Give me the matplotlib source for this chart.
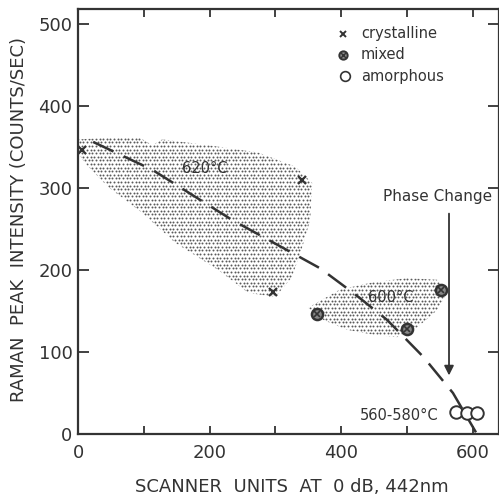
import numpy as np
import matplotlib
matplotlib.use("Agg")
import matplotlib.pyplot as plt

## data
cryst_x = [6, 341, 297]
cryst_y = [346, 310, 173]
mixed_x = [363, 500, 552]
mixed_y = [146, 128, 176]
amorph_x = [575, 592, 607]
amorph_y = [27, 25, 25]

## dashed trend curve
trend_x = [23, 113, 234, 300, 368, 420, 470, 525, 570, 605]
trend_y = [356, 322, 261, 232, 202, 171, 139, 94, 50, 2]

## outlines of the shaded regions
r620_x = [0, 61, 94, 113, 128, 198, 274, 330, 356, 353, 341, 325, 300, 259, 213, 148, 97, 46, 11, 0]
r620_y = [359, 362, 361, 352, 359, 352, 343, 326, 306, 261, 228, 191, 167, 172, 200, 233, 270, 301, 330, 343]
r600_x = [350, 398, 449, 500, 546, 561, 546, 516, 485, 449, 409, 373]
r600_y = [154, 176, 185, 190, 188, 172, 151, 130, 118, 121, 127, 139]

ink = '#333333'

fig = plt.figure(figsize=(4.99, 5.0), dpi=100)
ax = fig.add_axes([78/499, 66/500, 421/499, 425/500])

## stipple texture: staggered dot grid clipped to each region
step = 3.6
gx, gy = np.meshgrid(np.arange(0, 1, step/421), np.arange(0, 1, step/425))
gx = gx + (np.arange(gx.shape[0])[:, None] % 2) * (step/2)/421
for rx, ry in [(r620_x, r620_y), (r600_x, r600_y)]:
    patch = ax.fill(rx, ry, facecolor='none', lw=0)[0]
    dots = ax.scatter(gx.ravel(), gy.ravel(), s=2.0, marker='o', color='#5a5a5a',
                      lw=0, transform=ax.transAxes)
    dots.set_clip_path(patch)

ax.plot(trend_x, trend_y, color=ink, lw=1.8, linestyle=(0, (9, 4.5)))

ax.plot(cryst_x, cryst_y, 'x', color=ink, ms=6, mew=1.6, ls='none')
ax.plot(mixed_x, mixed_y, 'o', mfc='#888888', mec=ink, ms=8, mew=1.8, ls='none')
ax.plot(mixed_x, mixed_y, 'x', color=ink, ms=5, mew=1.2, ls='none')
ax.plot(amorph_x, amorph_y, 'o', mfc='white', mec=ink, ms=9, mew=1.4, ls='none')

## legend drawn by hand
ax.plot([403], [488], 'x', color=ink, ms=5, mew=1.4)
ax.plot([403], [462], 'o', mfc='#888888', mec=ink, ms=6, mew=1.4)
ax.plot([403], [462], 'x', color=ink, ms=4, mew=1.0)
ax.plot([406], [436], 'o', mfc='white', mec=ink, ms=7, mew=1.2)
ax.text(430, 488, 'crystalline', fontsize=10.5, color=ink, va='center')
ax.text(430, 462, 'mixed', fontsize=10.5, color=ink, va='center')
ax.text(430, 436, 'amorphous', fontsize=10.5, color=ink, va='center')

ax.text(193, 323, '620°C', fontsize=10.5, color=ink, ha='center', va='center')
ax.text(476, 166, '600°C', fontsize=10.5, color=ink, ha='center', va='center')
ax.text(548, 23, '560-580°C', fontsize=10.5, color=ink, ha='right', va='center')

ax.text(547, 290, 'Phase Change', fontsize=11, color=ink, ha='center', va='center')
ax.annotate('', xy=(564, 68), xytext=(564, 272),
            arrowprops=dict(arrowstyle='-|>', color=ink, lw=1.3, mutation_scale=14))

ax.set_xlim(0, 640)
ax.set_ylim(0, 518)
ax.set_xticks(np.arange(0, 601, 100))
ax.set_xticklabels(['0', '', '200', '', '400', '', '600'])
ax.set_yticks(np.arange(0, 501, 100))
ax.tick_params(axis='x', direction='in', length=6, width=1.3, pad=7, labelsize=13,
               top=True, colors=ink)
ax.tick_params(axis='y', direction='in', length=8, width=1.3, pad=4, labelsize=13,
               right=True, colors=ink)
for s in ax.spines.values():
    s.set_linewidth(1.6)
    s.set_color(ink)

fig.text(292/499, 1 - 487/500, 'SCANNER  UNITS  AT  0 dB, 442nm', fontsize=13,
         color=ink, ha='center', va='center')
fig.text(19/499, 1 - 219/500, 'RAMAN  PEAK  INTENSITY (COUNTS/SEC)', fontsize=13,
         color=ink, ha='center', va='center', rotation=90)

fig.savefig('out.png', dpi=100)
